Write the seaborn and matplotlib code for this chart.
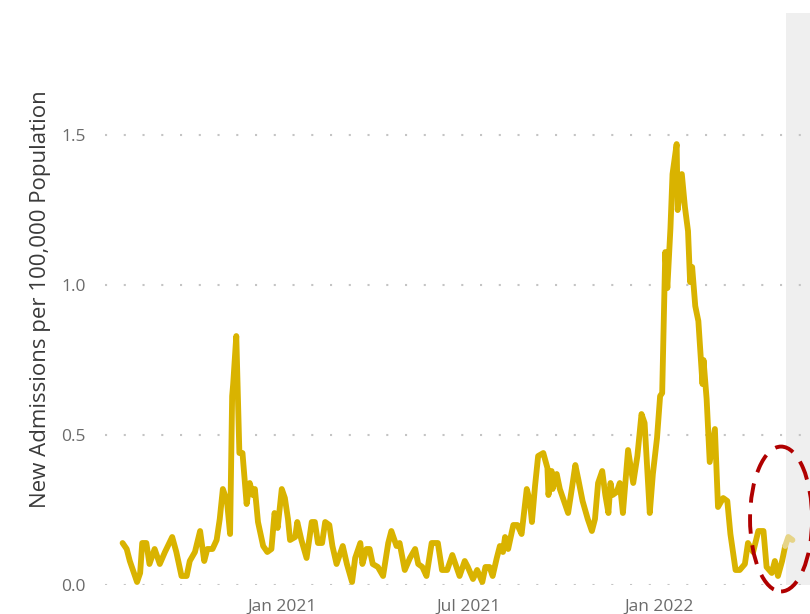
import pandas as pd
import matplotlib.pyplot as plt
import matplotlib.dates as mdates
from matplotlib.patches import Ellipse
import seaborn as sns

# days since 2021-01-01
days = [-154, -150, -147, -140, -137, -135, -131, -128, -123, -118, -113, -106, -102, -97, -92,
        -89, -84, -79, -75, -72, -67, -63, -60, -57, -53, -50, -48, -47, -44, -41, -38, -34, -31,
        -28, -26, -23, -18, -14, -10, -7, -4, 0, 3, 6, 8, 13, 15, 19, 24, 29, 32, 35, 39, 42, 46,
        49, 53, 56, 59, 63, 68, 71, 76, 78, 82, 85, 88, 93, 98, 103, 106, 111, 114, 119, 124, 129,
        132, 136, 140, 145, 151, 155, 160, 165, 167, 172, 177, 180, 185, 189, 194, 197, 201, 204,
        208, 211, 214, 216, 219, 224, 228, 232, 235, 237, 240, 242, 245, 248, 253, 257, 258, 261,
        262, 266, 269, 274, 277, 281, 284, 287, 291, 296, 300, 303, 306, 310, 313, 316, 318, 320,
        324, 327, 330, 335, 340, 344, 348, 351, 356, 359, 363, 366, 368, 371, 373, 376, 378, 382,
        383, 387, 390, 393, 395, 397, 400, 403, 407, 408, 411, 414, 419, 422, 427, 431, 434, 439,
        443, 448, 451, 456, 461, 466, 469, 474, 477, 480, 484, 487]
rate = [0.14, 0.12, 0.08, 0.01, 0.04, 0.14, 0.14, 0.07, 0.12, 0.07, 0.11, 0.16, 0.11, 0.03, 0.03,
        0.08, 0.11, 0.18, 0.08, 0.12, 0.12, 0.15, 0.22, 0.32, 0.28, 0.17, 0.63, 0.67, 0.83, 0.44,
        0.44, 0.27, 0.34, 0.30, 0.32, 0.21, 0.13, 0.11, 0.12, 0.24, 0.19, 0.32, 0.29, 0.22, 0.15,
        0.16, 0.21, 0.15, 0.09, 0.21, 0.21, 0.14, 0.14, 0.21, 0.20, 0.13, 0.07, 0.10, 0.13, 0.07,
        0.01, 0.09, 0.14, 0.07, 0.12, 0.12, 0.07, 0.06, 0.03, 0.14, 0.18, 0.13, 0.14, 0.05, 0.09,
        0.12, 0.07, 0.06, 0.03, 0.14, 0.14, 0.05, 0.05, 0.10, 0.08, 0.03, 0.08, 0.06, 0.02, 0.05,
        0.01, 0.06, 0.06, 0.03, 0.09, 0.13, 0.11, 0.16, 0.12, 0.20, 0.20, 0.17, 0.26, 0.32, 0.28,
        0.21, 0.33, 0.43, 0.44, 0.39, 0.30, 0.38, 0.32, 0.37, 0.32, 0.27, 0.24, 0.33, 0.40, 0.35,
        0.28, 0.22, 0.18, 0.22, 0.34, 0.38, 0.30, 0.24, 0.34, 0.30, 0.31, 0.34, 0.24, 0.45, 0.34,
        0.43, 0.57, 0.54, 0.24, 0.37, 0.49, 0.63, 0.64, 1.11, 0.99, 1.19, 1.37, 1.47, 1.25, 1.37,
        1.26, 1.18, 1.01, 1.06, 0.93, 0.88, 0.67, 0.75, 0.62, 0.41, 0.52, 0.26, 0.29, 0.28, 0.17,
        0.05, 0.05, 0.07, 0.14, 0.11, 0.18, 0.18, 0.06, 0.04, 0.08, 0.03, 0.08, 0.13]

# incomplete recent data (drawn lighter)
tail_days = [487, 490, 494]
tail_rate = [0.13, 0.16, 0.15]

tick_dates = ["2021-01-01", "2021-07-01", "2022-01-01"]
yticks = [0.0, 0.5, 1.0, 1.5]

start = pd.Timestamp("2021-01-01")
df = pd.DataFrame({"date": start + pd.to_timedelta(days, unit="D"), "rate": rate})
df_tail = pd.DataFrame({"date": start + pd.to_timedelta(tail_days, unit="D"), "rate": tail_rate})

sns.set_style("white")
plt.rcParams["font.family"] = ["Open Sans", "DejaVu Sans"]

fig = plt.figure(figsize=(8.1, 6.14), dpi=100)
ax = fig.add_axes([105 / 810, 1 - 585 / 614, 1 - 105 / 810, 572 / 614])

ax.axvspan(start + pd.Timedelta(days=488), start + pd.Timedelta(days=530), color="#efefef", lw=0, zorder=0)

sns.lineplot(data=df, x="date", y="rate", color="#d9b300", lw=4.2, ax=ax, zorder=3)
sns.lineplot(data=df_tail, x="date", y="rate", color="#e6d487", lw=4.2, ax=ax, zorder=3)

ax.set_xlim(start + pd.Timedelta(days=-171), start + pd.Timedelta(days=511))
ax.set_ylim(0, 1.907)

ax.set_xticks(pd.to_datetime(tick_dates))
ax.xaxis.set_major_formatter(mdates.DateFormatter("%b %Y"))
ax.set_yticks(yticks)
ax.set_yticklabels([f"{v:.1f}" for v in yticks])
ax.tick_params(axis="both", length=0, labelsize=12.5, labelcolor="#6b6b6b")
ax.tick_params(axis="y", pad=14)
ax.tick_params(axis="x", pad=10)

ax.yaxis.grid(True, linestyle=(0, (1, 8)), color="#c4c4c4", lw=1.5)
ax.xaxis.grid(False)
sns.despine(ax=ax, left=True, bottom=True)

ax.set_xlabel("")
ax.set_ylabel("New Admissions per 100,000 Population", fontsize=16, color="#3a3a3a", labelpad=7)

# red dashed ring around the latest values
cx = mdates.date2num(start + pd.Timedelta(days=483))
ring = Ellipse((cx, 0.22), width=60, height=0.483, fill=False, edgecolor="#b00000",
               lw=2.8, linestyle=(0, (5, 3)), clip_on=False, zorder=5)
ax.add_patch(ring)

fig.savefig("out.png", dpi=100)
